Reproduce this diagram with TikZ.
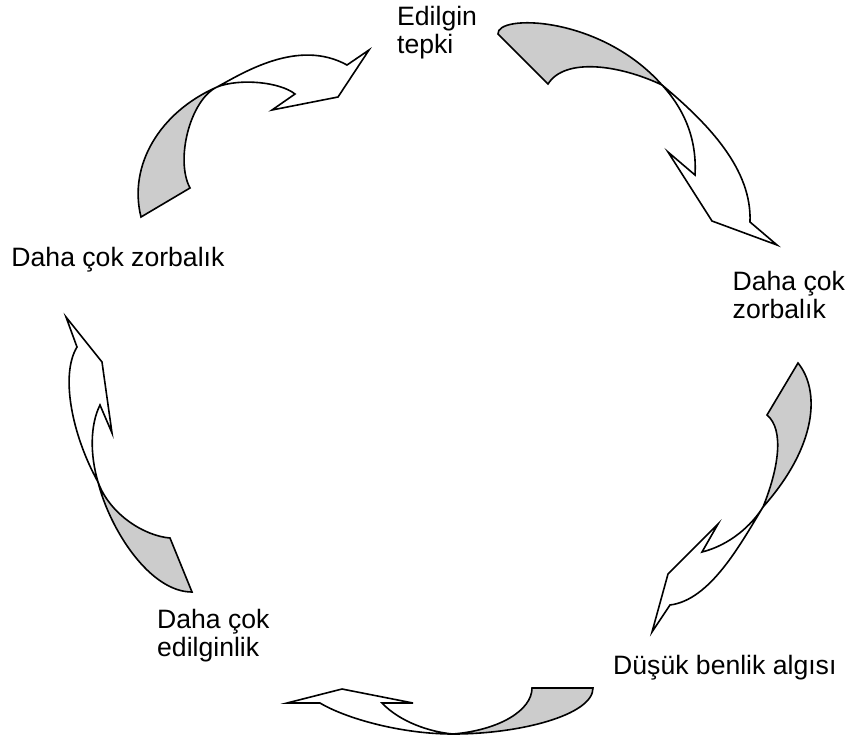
\documentclass[tikz,border=0pt]{standalone}
\usepackage{fontspec}
\setmainfont{Liberation Sans}
\definecolor{arrowgray}{RGB}{204,204,204}
\begin{document}
\begin{tikzpicture}[x=1pt,y=-1pt,
  back/.style={fill=arrowgray,draw=black,line width=1.6pt,line join=miter},
  front/.style={fill=white,draw=black,line width=1.6pt,line join=miter},
  lbl/.style={anchor=base west,inner sep=0pt,font=\fontsize{26.6}{28.3}\selectfont}]
\useasboundingbox (0,0) rectangle (851,740);
\fill[white] (0,0) rectangle (851,740);

% arrow 1 (top left)
\draw[back] (141,217) .. controls (128,165) and (160,112) .. (217,87)
  .. controls (190,100) and (175,160) .. (190,188) -- cycle;
\draw[front] (217,87) .. controls (243,73) and (298,38) .. (347,65)
  -- (369,50) -- (338,97) -- (272,110) -- (295,94)
  .. controls (280,82) and (240,78) .. (217,87) -- cycle;

% arrow 2 (top right)
\draw[back] (498,34) .. controls (496,14) and (600,15) .. (662,85)
  .. controls (620,65) and (565,57) .. (548,84) -- cycle;
\draw[front] (662,85) .. controls (710,125) and (752,170) .. (750,222)
  -- (777,245) -- (712,221) -- (668,152) -- (695,175)
  .. controls (697,140) and (685,110) .. (662,85) -- cycle;

% arrow 3 (right)
\draw[back] (798,363) .. controls (820,390) and (818,445) .. (763,507)
  .. controls (778,470) and (785,430) .. (767,415) -- cycle;
\draw[front] (763,507) .. controls (740,545) and (710,600) .. (670,605)
  -- (652,632) -- (668,574) -- (718,524) -- (702,552)
  .. controls (730,545) and (752,525) .. (763,507) -- cycle;

% arrow 4 (bottom)
\draw[back] (593,688) .. controls (593,715) and (520,734) .. (453,734)
  .. controls (500,730) and (532,710) .. (532,688) -- cycle;
\draw[front] (453,734) .. controls (400,734) and (345,718) .. (320,703)
  -- (287,703) -- (342,689) -- (413,703) -- (382,703)
  .. controls (400,722) and (430,732) .. (453,734) -- cycle;

% arrow 5 (left)
\draw[back] (192,592) .. controls (150,592) and (110,530) .. (98,482)
  .. controls (110,515) and (145,536) .. (170,538) -- cycle;
\draw[front] (98,482) .. controls (72,435) and (60,375) .. (77,347)
  -- (66,317) -- (102,362) -- (112,433) -- (100,405)
  .. controls (90,425) and (90,455) .. (98,482) -- cycle;

% labels
\node[lbl] (t1a) at (397,25.7) {Edilgin};
\node[lbl] (t1b) at (397,53.3) {tepki};
\node[lbl] (t2a) at (732.5,290) {Daha çok};
\node[lbl] (t2b) at (732.5,318.3) {zorbalık};
\node[lbl] (t3) at (613,674) {Düşük benlik algısı};
\node[lbl] (t4a) at (157,628.3) {Daha çok};
\node[lbl] (t4b) at (157,656.7) {edilginlik};
\node[lbl] (t5) at (11.3,266.7) {Daha çok zorbalık};
\end{tikzpicture}
\end{document}
